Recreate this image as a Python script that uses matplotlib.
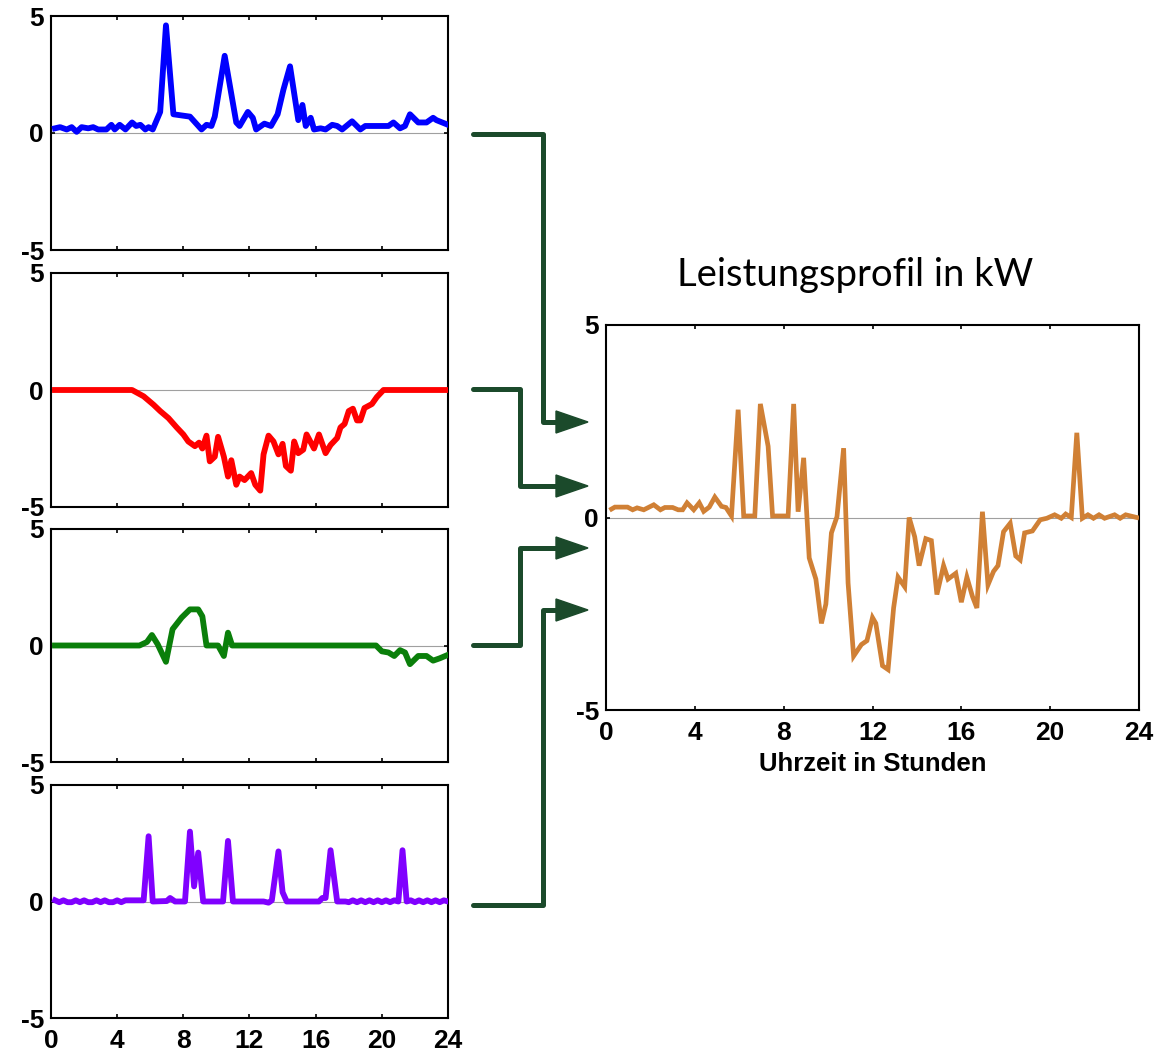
import matplotlib
matplotlib.use('Agg')
import matplotlib.pyplot as plt
from matplotlib.patches import Polygon

# ===============================================
# DATA, (hour, kW)
# ===============================================
blue = [(0.24, 0.2), (0.55, 0.25), (0.95, 0.15), (1.25, 0.25), (1.55, 0.05), (1.85, 0.25),
        (2.25, 0.2), (2.55, 0.25), (2.85, 0.15), (3.35, 0.15), (3.65, 0.35), (3.85, 0.15),
        (4.15, 0.35), (4.5, 0.15), (4.9, 0.45), (5.15, 0.3), (5.4, 0.35), (5.7, 0.15),
        (5.9, 0.25), (6.15, 0.15), (6.6, 0.9), (6.95, 4.6), (7.4, 0.8), (8.4, 0.7),
        (9.1, 0.15), (9.4, 0.35), (9.7, 0.3), (9.9, 0.7), (10.5, 3.3), (11.2, 0.45),
        (11.4, 0.3), (11.9, 0.9), (12.2, 0.65), (12.4, 0.15), (12.9, 0.4), (13.3, 0.3),
        (13.7, 0.8), (14.05, 1.85), (14.45, 2.85), (14.95, 0.55), (15.2, 1.2), (15.4, 0.3),
        (15.7, 0.65), (15.9, 0.15), (16.3, 0.2), (16.6, 0.15), (17.0, 0.35), (17.3, 0.3),
        (17.6, 0.15), (18.2, 0.5), (18.7, 0.15), (19.0, 0.3), (19.5, 0.3), (19.8, 0.3),
        (20.4, 0.3), (20.7, 0.45), (21.1, 0.2), (21.4, 0.3), (21.7, 0.8), (22.2, 0.45),
        (22.7, 0.45), (23.1, 0.65), (23.3, 0.55), (24.0, 0.35)]

red = [(0.24, 0.0), (4.9, 0.0), (5.6, -0.27), (6.2, -0.63), (6.6, -0.9), (7.1, -1.2),
       (7.6, -1.6), (8.0, -1.9), (8.3, -2.2), (8.7, -2.4), (8.95, -2.25), (9.15, -2.5),
       (9.4, -1.95), (9.6, -3.05), (9.9, -2.85), (10.1, -2.0), (10.45, -2.85), (10.7, -3.7),
       (10.9, -3.0), (11.2, -4.05), (11.4, -3.7), (11.7, -3.85), (12.1, -3.55), (12.35, -4.05),
       (12.65, -4.3), (12.85, -2.75), (13.15, -1.95), (13.45, -2.2), (13.75, -2.75),
       (14.0, -2.3), (14.2, -3.25), (14.5, -3.45), (14.7, -2.2), (14.95, -2.7), (15.25, -2.55),
       (15.45, -1.9), (15.9, -2.5), (16.2, -1.9), (16.6, -2.7), (16.9, -2.35), (17.3, -2.05),
       (17.5, -1.6), (17.75, -1.45), (18.0, -0.9), (18.25, -0.8), (18.5, -1.3), (18.7, -1.3),
       (18.95, -0.77), (19.4, -0.6), (19.7, -0.3), (20.1, 0.0), (24.0, 0.0)]

green = [(0.24, 0.0), (5.35, 0.0), (5.8, 0.15), (6.1, 0.45), (6.45, 0.05), (6.95, -0.7),
         (7.35, 0.7), (7.9, 1.2), (8.4, 1.55), (8.9, 1.55), (9.15, 1.25), (9.4, 0.0),
         (10.1, 0.0), (10.45, -0.45), (10.7, 0.55), (10.95, 0.0), (19.65, 0.0), (20.0, -0.25),
         (20.4, -0.3), (20.75, -0.45), (21.1, -0.2), (21.4, -0.3), (21.7, -0.8), (22.2, -0.45),
         (22.7, -0.45), (23.1, -0.65), (23.5, -0.55), (24.0, -0.4)]

purple = [(0.25, 0.05), (0.5, -0.03), (0.75, 0.05), (1.0, -0.03), (1.25, -0.03), (1.5, 0.05),
          (1.75, -0.03), (2.0, 0.05), (2.25, -0.03), (2.5, -0.03), (2.75, 0.05), (3.0, -0.03),
          (3.25, 0.05), (3.5, -0.03), (3.75, -0.03), (4.0, 0.05), (4.25, -0.03), (4.5, 0.05),
          (5.0, 0.05), (5.6, 0.05), (5.9, 2.8), (6.15, 0.0), (7.0, 0.02), (7.2, 0.15),
          (7.5, 0.0), (8.1, 0.0), (8.4, 3.0), (8.65, 0.65), (8.9, 2.1), (9.2, 0.0),
          (10.4, 0.0), (10.7, 2.6), (11.0, 0.0), (12.85, 0.0), (13.15, -0.05), (13.35, 0.05),
          (13.75, 2.15), (14.0, 0.4), (14.25, 0.0), (16.2, 0.0), (16.4, 0.15), (16.6, 0.15),
          (16.9, 2.2), (17.3, 0.0), (17.8, 0.0), (18.0, -0.03), (18.25, 0.05), (18.5, -0.03),
          (18.75, 0.05), (19.0, -0.03), (19.25, 0.05), (19.5, -0.03), (19.75, 0.05),
          (20.0, -0.03), (20.25, 0.05), (20.5, -0.03), (20.75, 0.05), (21.0, 0.0), (21.25, 2.2),
          (21.5, 0.0), (21.75, 0.05), (22.0, -0.03), (22.25, 0.05), (22.5, -0.03), (22.75, 0.05),
          (23.0, -0.03), (23.25, 0.05), (23.5, -0.03), (23.75, 0.05), (24.0, 0.0)]

total = [(0.25, 0.22), (0.4, 0.27), (0.97, 0.27), (1.2, 0.2), (1.4, 0.25), (1.7, 0.2),
         (2.15, 0.33), (2.45, 0.2), (2.65, 0.26), (3.0, 0.26), (3.25, 0.2), (3.45, 0.2),
         (3.65, 0.38), (3.95, 0.2), (4.2, 0.38), (4.4, 0.16), (4.65, 0.27), (4.9, 0.53),
         (5.2, 0.29), (5.4, 0.26), (5.65, 0.04), (5.95, 2.8), (6.2, 0.04), (6.7, 0.04),
         (6.95, 2.95), (7.3, 1.85), (7.5, 0.04), (8.2, 0.04), (8.45, 2.95), (8.65, 0.15),
         (8.9, 1.55), (9.15, -1.05), (9.45, -1.6), (9.7, -2.75), (9.9, -2.25), (10.15, -0.4),
         (10.4, 0.02), (10.7, 1.8), (10.9, -1.7), (11.15, -3.6), (11.5, -3.3), (11.75, -3.2),
         (12.0, -2.6), (12.15, -2.75), (12.45, -3.85), (12.7, -3.95), (12.95, -2.35),
         (13.15, -1.55), (13.45, -1.8), (13.65, 0.0), (13.9, -0.5), (14.1, -1.25), (14.4, -0.55),
         (14.65, -0.6), (14.9, -2.0), (15.2, -1.25), (15.4, -1.6), (15.75, -1.45), (16.0, -2.2),
         (16.25, -1.55), (16.5, -2.05), (16.7, -2.35), (16.95, 0.15), (17.2, -1.75),
         (17.45, -1.4), (17.65, -1.25), (17.9, -0.37), (18.2, -0.15), (18.45, -1.0),
         (18.65, -1.1), (18.85, -0.4), (19.2, -0.35), (19.55, -0.06), (19.85, -0.02),
         (20.2, 0.07), (20.5, -0.02), (20.7, 0.09), (20.95, 0.0), (21.2, 2.2), (21.45, -0.02),
         (21.7, 0.07), (21.95, -0.02), (22.2, 0.07), (22.45, -0.02), (22.9, 0.07),
         (23.15, -0.02), (23.4, 0.07), (23.9, 0.0)]

x_ticks = [0, 4, 8, 12, 16, 20, 24]
y_ticks = [-5, 0, 5]
title = 'Leistungsprofil in kW'
xlabel = 'Uhrzeit in Stunden'

# ===============================================
# LAYOUT (pixels of the 1164x1052 picture)
# ===============================================
W, H = 1164, 1052
fig = plt.figure(figsize=(W / 100, H / 100), dpi=100)
fig.patch.set_facecolor('white')

TICK_FONT = dict(family='Liberation Sans', weight='bold', size=19)


def px_axes(x0, y0, x1, y1):
    return fig.add_axes([x0 / W, 1 - y1 / H, (x1 - x0) / W, (y1 - y0) / H])


def style_axes(ax, show_x):
    ax.set_xlim(0, 24)
    ax.set_ylim(-5, 5)
    ax.set_xticks(x_ticks)
    ax.set_yticks(y_ticks)
    ax.axhline(0, color='#a0a0a0', linewidth=0.8, zorder=1)
    ax.tick_params(direction='in', length=3, width=1.2, top=True, right=True)
    ax.tick_params(axis='x', pad=8)
    ax.tick_params(axis='y', pad=5)
    ax.set_yticklabels([str(v) for v in y_ticks], fontdict=TICK_FONT)
    if show_x:
        ax.set_xticklabels([str(v) for v in x_ticks], fontdict=TICK_FONT)
    else:
        ax.set_xticklabels([])
    for s in ax.spines.values():
        s.set_linewidth(1.5)


# left panels
panels = [(blue, '#0000ff', (16, 250)),
          (red, '#ff0000', (273, 507)),
          (green, '#0a7f0a', (529, 762)),
          (purple, '#8000ff', (785, 1018))]

for i, (series, color, (ytop, ybot)) in enumerate(panels):
    ax = px_axes(51, ytop, 448, ybot)
    t, kw = zip(*series)
    ax.plot(t, kw, color=color, linewidth=4.2, solid_joinstyle='round', zorder=3)
    style_axes(ax, show_x=(i == len(panels) - 1))

# right panel (sum profile)
axr = px_axes(606, 325, 1139, 710)
t, kw = zip(*total)
axr.plot(t, kw, color='#d08035', linewidth=3.4, solid_joinstyle='miter', zorder=3)
style_axes(axr, show_x=True)
axr.set_xlabel(xlabel, fontdict=dict(family='Liberation Sans', weight='bold', size=18.5),
               labelpad=5)

fig.text(855 / W, 1 - 275 / H, title, ha='center', va='center',
         fontsize=27.5, family='Lato')

# ===============================================
# CONNECTOR ARROWS
# ===============================================
ov = fig.add_axes([0, 0, 1, 1], zorder=-1)
ov.set_xlim(0, W)
ov.set_ylim(H, 0)
ov.axis('off')

arrow_color = '#1b4a2b'
connectors = [[(473, 134), (543, 134), (543, 422), (560, 422)],
              [(473, 389), (520, 389), (520, 486), (560, 486)],
              [(473, 645), (520, 645), (520, 548), (560, 548)],
              [(473, 905), (543, 905), (543, 610), (560, 610)]]
for path in connectors:
    xs, ys = zip(*path)
    ov.plot(xs, ys, color=arrow_color, linewidth=3.6,
            solid_capstyle='round', solid_joinstyle='round')
    yend = path[-1][1]
    ov.add_patch(Polygon([(556, yend - 11), (588, yend), (556, yend + 11)],
                         closed=True, color=arrow_color))

plt.savefig('out.png', dpi=100)
